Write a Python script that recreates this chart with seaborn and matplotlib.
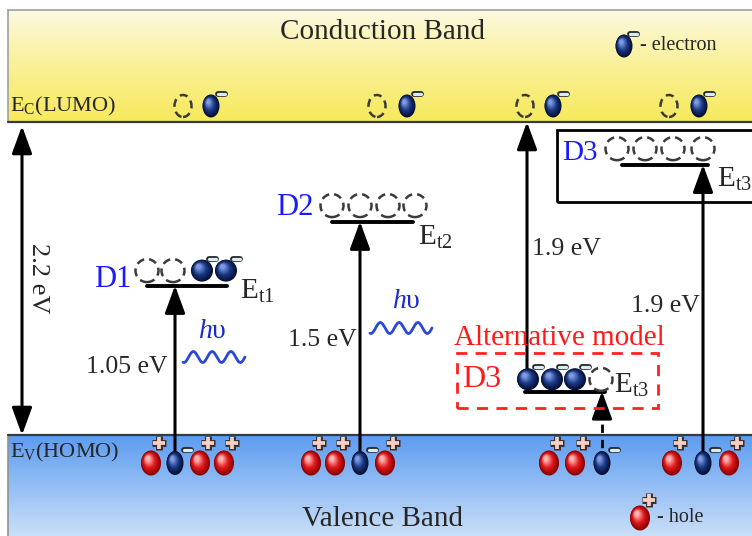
import numpy as np
import pandas as pd
import seaborn as sns
import matplotlib
matplotlib.use("Agg")
import matplotlib.pyplot as plt
from matplotlib.patches import Ellipse, Rectangle
from matplotlib.colors import to_rgb

# ---- energy data (eV, valence-band edge Ev = 0) ----
band_gap = 2.2
trap_names = ["D1", "D2", "D3", "D3"]
trap_depths = [1.05, 1.5, 1.9, 1.9]
depth_texts = ["1.05 eV", "1.5 eV", "1.9 eV", "1.9 eV"]
level_subs = ["t1", "t2", "t3", "t3"]
# the alternative-model D3 depth is counted down from Ec
from_conduction = [False, False, True, False]
# occupancy of the four trap states (1 = electron, 0 = empty)
trap_fill = [[0, 0, 1, 1], [0, 0, 0, 0], [1, 1, 1, 0], [0, 0, 0, 0]]
# carriers left in the valence band (h = hole, e = electron)
vb_carriers = [["h", "e", "h", "h"], ["h", "h", "e", "h"], ["h", "h", "e"], ["h", "e", "h"]]

sns.set_theme(style="white")
plt.rcParams["font.family"] = ["Liberation Serif", "DejaVu Serif"]
plt.rcParams["mathtext.fontset"] = "custom"
plt.rcParams["mathtext.rm"] = "Liberation Serif"
plt.rcParams["mathtext.it"] = "Liberation Serif:italic"

# ---- layout: horizontal positions in pixels, vertical axis in eV ----
EV_ROW = 435
PX_PER_EV = 313 / band_gap


def Y(py):
    return (EV_ROW - py) / PX_PER_EV


def off(p):
    return p / PX_PER_EV


Ev, Ec = 0.0, band_gap
level_E = [band_gap - d if fc else d for d, fc in zip(trap_depths, from_conduction)]

fig = plt.figure(figsize=(7.52, 5.36), dpi=100)
ax = fig.add_axes([0, 0, 1, 1])

# ---- bands ----
g = np.linspace(0, 1, 256)[:, None]
cb_top, cb_bot = np.array([252, 250, 232]) / 255, np.array([247, 233, 92]) / 255
cb_img = (cb_top + (cb_bot - cb_top) * g ** 0.8)[:, None, :]
ax.imshow(cb_img, extent=[8, 752, Ec, Y(10)], aspect="auto", origin="upper",
          zorder=0, interpolation="bilinear")
vb_top, vb_bot = np.array([92, 156, 240]) / 255, np.array([202, 223, 248]) / 255
vb_img = (vb_top + (vb_bot - vb_top) * g)[:, None, :]
ax.imshow(vb_img, extent=[8, 752, Y(536), Ev], aspect="auto", origin="upper",
          zorder=0, interpolation="bilinear")
ax.plot([8, 752], [Y(10), Y(10)], color="#a0a0a0", lw=1.2, zorder=1)
ax.plot([8, 8], [Ec, Y(10)], color="#a0a0a0", lw=1.2, zorder=1)
ax.plot([8, 8], [Ev, Y(536)], color="#909090", lw=1.2, zorder=1)
ax.plot([8, 752], [Ec, Ec], color="#3a3a3a", lw=1.6, zorder=2)
ax.plot([8, 752], [Ev, Ev], color="#3a3a3a", lw=1.6, zorder=2)


# ---- glyph helpers ----
def shaded_ball(x, y, w, h, dark, mid, light, z=6):
    d, m, l = (np.array(to_rgb(c)) for c in (dark, mid, light))
    n = 18
    for i in range(n):
        t = i / (n - 1)
        col = d + (m - d) * (t / 0.5) if t < 0.5 else m + (l - m) * ((t - 0.5) / 0.5)
        s = 1 - 0.8 * t
        ax.add_patch(Ellipse((x - 0.16 * w * t, y + off(0.18 * h * t)), w * s, off(h * s),
                             fc=col, ec="none", zorder=z))


def electron(x, y, w=20, h=22, z=6):
    shaded_ball(x, y, w, h, "#040f30", "#1a3886", "#7f9ae0", z)


def hole(x, y, w=20, h=25, z=6):
    shaded_ball(x, y, w, h, "#8a0000", "#e01a1a", "#ffb4b4", z)


def ring(x, y, w=22, h=22, z=6):
    ax.add_patch(Ellipse((x, y), w, off(h), fc="none", ec="#3a3a3a", lw=1.8,
                         ls=(0, (3.2, 2.0)), zorder=z))


def minus(x, y, length=7, z=8):
    xs, ys = [x - length / 2, x + length / 2], [y, y]
    ax.plot(xs, ys, color="#2a2a2a", lw=4.2, solid_capstyle="round", zorder=z)
    ax.plot(xs, ys, color="#d6ecf7", lw=2.3, solid_capstyle="round", zorder=z + 0.1)


def plus(x, y, arm=6, z=8):
    outer = [([x - arm - 1, x + arm + 1], [y, y]), ([x, x], [y - off(arm + 1), y + off(arm + 1)])]
    inner = [([x - arm, x + arm], [y, y]), ([x, x], [y - off(arm), y + off(arm)])]
    for xs, ys in outer:
        ax.plot(xs, ys, color="#3a3030", lw=5.0, solid_capstyle="butt", zorder=z)
    for xs, ys in inner:
        ax.plot(xs, ys, color="#f7cfc4", lw=2.7, solid_capstyle="butt", zorder=z + 0.1)


def arrow(x, y0, y1, style="-|>", z=3):
    ax.annotate("", xy=(x, y1), xytext=(x, y0),
                arrowprops=dict(arrowstyle=f"{style},head_length=0.6,head_width=0.22",
                                mutation_scale=28, lw=2.2, color="black",
                                shrinkA=0, shrinkB=0), zorder=z)


def photon(xc, y_text, x0, y_wave):
    ax.text(xc, Y(y_text), r"$\mathit{h}$υ", color="#1a2ad0", fontsize=20,
            ha="center", va="center", zorder=9)
    t = np.linspace(0, 1, 300)
    ax.plot(x0 + 62 * t, Y(y_wave) + off(5.5) * np.sin(2 * np.pi * 3.3 * t - 0.6 * np.pi),
            color="#2a48d8", lw=2, zorder=3)


# ---- band labels and legend ----
ax.text(382, Y(32), "Conduction Band", fontsize=21, ha="center", va="center", zorder=9)
ax.text(382, Y(519), "Valence Band", fontsize=21, ha="center", va="center", zorder=9)
ax.text(10, Y(106), r"E$_\mathrm{C}$(LUMO)", fontsize=16, va="center", zorder=9)
ax.text(10, Y(452), r"E$_\mathrm{V}$(HOMO)", fontsize=16, va="center", zorder=9)
electron(624, Y(46), 17, 23)
minus(633, Y(34))
ax.text(640, Y(46), "- electron", fontsize=14.5, va="center", zorder=9)
hole(640, Y(518))
plus(649, Y(500))
ax.text(657, Y(518), "- hole", fontsize=14.5, va="center", zorder=9)

# band gap
arrow(22, Ec - off(4), Ev, style="<|-|>")
ax.text(38, (Ec + Ev) / 2, f"{band_gap} eV", fontsize=19, rotation=270,
        ha="center", va="center", zorder=9)

# conduction-band electron / vacancy pairs
for rx, ex in [(183, 211), (377, 407), (525, 553), (669, 699)]:
    ring(rx, Y(106), 17, 22)
    electron(ex, Y(106), 17, 23)
    minus(ex + 10, Y(94))

# ---- trap levels (seaborn lines) ----
level_x = [(147, 227), (332, 413), (525, 605), (622, 708)]
rows = []
for k, (xa, xb) in enumerate(level_x):
    rows += [{"level": k, "x": xa, "E": level_E[k]}, {"level": k, "x": xb, "E": level_E[k]}]
sns.lineplot(data=pd.DataFrame(rows), x="x", y="E", units="level", estimator=None,
             color="black", lw=2.8, ax=ax, legend=False, zorder=4)

state_x = [[147, 173, 202, 226], [332, 360, 388, 415], [528, 552, 575, 601], [617, 645, 673, 703]]
state_dy = [15, 16, 13, 16]
name_pos = [(131, 6, "right"), (313, 14, "right"), (462, 13, "left"), (562, 12, "left")]
name_colors = ["#1a1aff", "#1a1aff", "#ff1a1a", "#1a1aff"]
name_sizes = [22, 22, 23, 21]
elabel_pos = [(240, -6), (418, -16), (614, 7), (717, -15)]
depth_pos = [(168, 367, "right"), (357, 340, "right"), (532, 249, "left"), (700, 306, "right")]
vb_x = [[151, 175, 200, 224], [311, 335, 360, 385], [549, 575, 602], [672, 703, 729]]

for k in range(4):
    E = level_E[k]
    ys = E + off(state_dy[k])
    for sx, f in zip(state_x[k], trap_fill[k]):
        if f:
            electron(sx, ys, 22, 22)
            minus(sx + 10, ys + off(12))
        else:
            ring(sx, ys, 23, 23)
    nx, ndy, nha = name_pos[k]
    ax.text(nx, E + off(ndy), trap_names[k], color=name_colors[k], fontsize=name_sizes[k],
            ha=nha, va="center", zorder=9)
    ex, edy = elabel_pos[k]
    ax.text(ex, E + off(edy), r"E$_\mathrm{%s}$" % level_subs[k], fontsize=21,
            va="center", zorder=9)
    dx, dy, dha = depth_pos[k]
    ax.text(dx, Y(dy), depth_texts[k], fontsize=18.5, ha=dha, va="center", zorder=9)

    # valence-band carriers
    e_x = None
    for cx, kind in zip(vb_x[k], vb_carriers[k]):
        if kind == "h":
            hole(cx, Y(463))
            plus(cx + 8, Y(443))
        else:
            electron(cx, Y(463), 17, 24)
            minus(cx + 12, Y(450))
            e_x = cx

    if from_conduction[k]:
        # emission from the trap up to Ec, and dashed capture path from the VB
        arrow(state_x[k][0] - 1, E, Ec)
        ax.plot([e_x, e_x], [Y(463), E - off(14)], color="black", lw=2,
                ls=(0, (3, 2.5)), zorder=3)
        arrow(e_x, E - off(16), E + off(1))
        ax.add_patch(Rectangle((457, E - off(16)), 201, off(55), fill=False,
                               ec="#ff2020", lw=2, ls=(0, (4, 3)), zorder=5))
        ax.text(559, E + off(54), "Alternative model", color="#ff1a1a", fontsize=21,
                ha="center", va="center", zorder=9)
    else:
        arrow(e_x, Y(463), E)

# boxed D3 of the main model
ax.add_patch(Rectangle((557, level_E[3] - off(37)), 230, off(72), fill=False,
                       ec="black", lw=2, zorder=5))

# photon excitation marks
photon(212, 332, 183, 357)
photon(406, 302, 370, 328)

ax.set_xlim(0, 752)
ax.set_ylim(Y(536), Y(0))
ax.axis("off")
fig.savefig("out.png", dpi=100)
